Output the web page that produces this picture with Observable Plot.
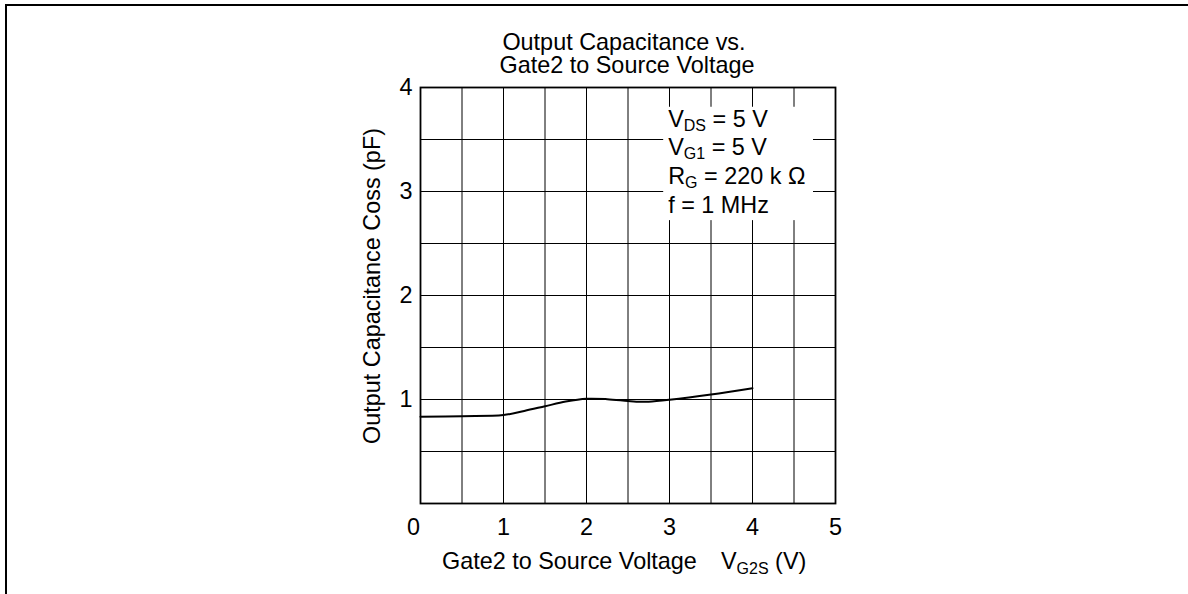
<!DOCTYPE html>
<html>
<head>
<meta charset="utf-8">
<script src="https://cdn.jsdelivr.net/npm/d3@7"></script>
<script src="https://cdn.jsdelivr.net/npm/@observablehq/plot@0.6"></script>
<style>
  html, body { margin: 0; padding: 0; background: #fff; }
  #wrap { position: relative; width: 1188px; height: 594px; overflow: hidden; }
  #border { position: absolute; left: 5px; top: 4px; right: -10px; bottom: -10px;
            border-top: 2px solid #000; border-left: 2px solid #000; pointer-events: none; }
  #wrap svg { position: absolute; left: 0; top: 0; }
</style>
</head>
<body>
<div id="wrap"><div id="border"></div></div>
<script>
// Data
const vg2s = [0, 0.5, 1.0, 1.25, 1.5, 1.75, 2.0, 2.25, 2.5, 2.65, 2.75, 3.0, 3.5, 4.0];
const coss = [0.834, 0.84, 0.85, 0.89, 0.935, 0.98, 1.007, 1.003, 0.986, 0.978, 0.978, 0.997, 1.048, 1.109];
const xTicks = [1, 2, 3, 4, 5];
const xOriginTick = [0];
const yTicks = [1, 2, 3, 4];
const xGrid = [0.5, 1, 1.5, 2, 2.5, 3, 3.5, 4, 4.5];
const yGrid = [0.5, 1, 1.5, 2, 2.5, 3, 3.5];
const titleLines = ["Output Capacitance vs.", "Gate2 to Source Voltage"];
const yLabel = "Output Capacitance Coss (pF)";
const xLabelMain = "Gate2 to Source Voltage";
const xLabelSym = {main: "V", sub: "G2S", rest: " (V)"};
const conditions = [
  {main: "V", sub: "DS", rest: " = 5 V"},
  {main: "V", sub: "G1", rest: " = 5 V"},
  {main: "R", sub: "G", rest: " = 220 k \u03A9"},
  {main: "f = 1 MHz", sub: "", rest: ""}
];
const condBox = [{x1: 2.93, x2: 4.735, y1: 2.72, y2: 3.81}];

const data = vg2s.map((v, i) => ({x: v, y: coss[i]}));
const FONT = "Liberation Sans, Arial, Helvetica, sans-serif";
const FS = 23.4;
const fmt = d3.format("d");

const plot = Plot.plot({
  width: 1188,
  height: 594,
  marginLeft: 420,
  marginRight: 353,
  marginTop: 87,
  marginBottom: 91,
  style: {fontFamily: FONT, fontSize: FS + "px", background: "transparent", color: "#000"},
  x: {domain: [0, 5], axis: null},
  y: {domain: [0, 4], axis: null},
  marks: [
    Plot.gridX(xGrid, {stroke: "#000", strokeOpacity: 1, strokeWidth: 1}),
    Plot.gridY(yGrid, {stroke: "#000", strokeOpacity: 1, strokeWidth: 1}),
    Plot.rect(condBox, {x1: "x1", x2: "x2", y1: "y1", y2: "y2", fill: "white"}),
    Plot.frame({stroke: "#000", strokeWidth: 1.8}),
    Plot.line(data, {x: "x", y: "y", curve: "catmull-rom", stroke: "#000", strokeWidth: 2}),
    Plot.axisX(xTicks, {tickSize: 0, tickPadding: 15, fontSize: FS, label: null, tickFormat: fmt}),
    Plot.axisX(xOriginTick, {tickSize: 0, tickPadding: 15, fontSize: FS, dx: -7, label: null, tickFormat: fmt}),
    Plot.axisY(yTicks, {tickSize: 0, tickPadding: 8, fontSize: FS, label: null, tickFormat: fmt})
  ]
});

document.getElementById("wrap").insertBefore(plot, document.getElementById("border"));

const svg = d3.select(plot);
const xs = plot.scale("x");
const g = svg.append("g").attr("font-family", FONT).attr("fill", "#000").attr("text-anchor", "start");

// Title (two lines in one text element)
{
  const t = g.append("text").attr("text-anchor", "middle").attr("font-size", FS);
  t.append("tspan").attr("x", 624).attr("y", 50).text(titleLines[0]);
  t.append("tspan").attr("x", 627).attr("y", 73).text(titleLines[1]);
}

// Y label
g.append("text").attr("transform", "translate(380,286) rotate(-90)")
  .attr("text-anchor", "middle").attr("font-size", FS).text(yLabel);

// X label
g.append("text").attr("x", 442).attr("y", 569).attr("font-size", FS).text(xLabelMain);
{
  const t = g.append("text").attr("x", 721).attr("y", 569).attr("font-size", FS);
  t.append("tspan").text(xLabelSym.main);
  t.append("tspan").attr("font-size", 16).attr("dy", 5).text(xLabelSym.sub);
  t.append("tspan").attr("dy", -5).text(xLabelSym.rest);
}

// Conditions block
const condX = xs.apply(2.93) + 5;
const baselines = [127, 155, 183.5, 213];
conditions.forEach((c, i) => {
  const t = g.append("text").attr("x", condX).attr("y", baselines[i]).attr("font-size", FS);
  t.append("tspan").text(c.main);
  if (c.sub) {
    t.append("tspan").attr("font-size", 16).attr("dy", 4).text(c.sub);
    t.append("tspan").attr("dy", -4).text(c.rest);
  }
});
</script>
</body>
</html>
